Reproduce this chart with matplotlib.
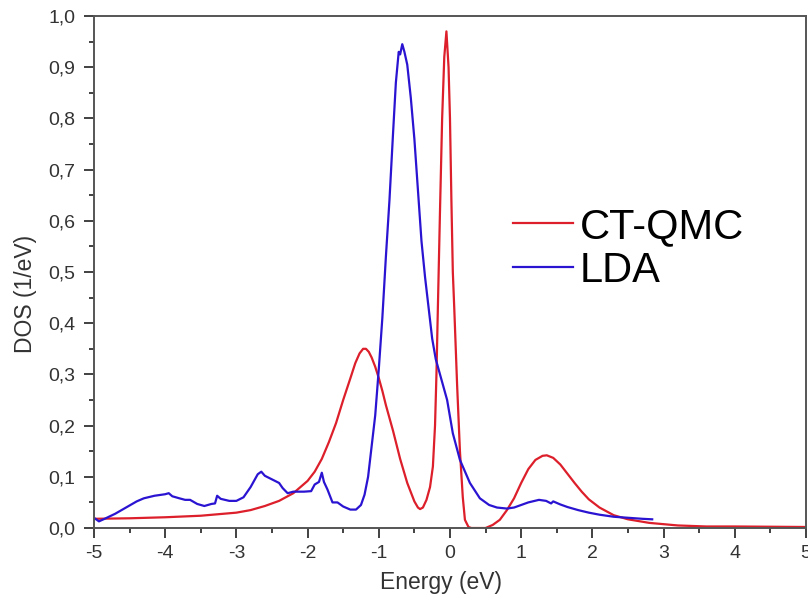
import matplotlib
matplotlib.use("Agg")
import matplotlib.pyplot as plt
from matplotlib.ticker import MultipleLocator, FuncFormatter

plt.rcParams["font.family"] = ["Liberation Sans", "DejaVu Sans"]
plt.rcParams["axes.unicode_minus"] = False

# CT-QMC curve
qmc_e = [-5.0, -4.5, -4.0, -3.5, -3.0, -2.8, -2.6, -2.4, -2.2, -2.0, -1.9, -1.8,
         -1.7, -1.6, -1.5, -1.4, -1.33, -1.27, -1.22, -1.18, -1.14, -1.1, -1.05,
         -1.0, -0.95, -0.9, -0.85, -0.8, -0.7, -0.6, -0.5, -0.45, -0.42, -0.38,
         -0.33, -0.28, -0.24, -0.21, -0.19, -0.17, -0.14, -0.11, -0.08, -0.05,
         -0.02, 0.0, 0.02, 0.04, 0.06, 0.10, 0.14, 0.18, 0.21, 0.26, 0.3, 0.5,
         0.6, 0.7, 0.8, 0.9, 1.0, 1.1, 1.2, 1.3, 1.36, 1.45, 1.55, 1.65, 1.75,
         1.85, 1.95, 2.1, 2.3, 2.5, 2.8, 3.2, 3.6, 4.0, 5.0]
qmc_dos = [0.018, 0.019, 0.021, 0.024, 0.030, 0.035, 0.043, 0.053, 0.068, 0.092,
           0.110, 0.135, 0.168, 0.205, 0.250, 0.292, 0.322, 0.341, 0.350, 0.350,
           0.344, 0.333, 0.315, 0.293, 0.268, 0.240, 0.215, 0.190, 0.135, 0.088,
           0.052, 0.040, 0.037, 0.040, 0.055, 0.080, 0.120, 0.200, 0.300, 0.430,
           0.620, 0.800, 0.920, 0.970, 0.900, 0.800, 0.640, 0.500, 0.430, 0.280,
           0.150, 0.060, 0.016, 0.002, 0.0, 0.0, 0.006, 0.016, 0.035, 0.058,
           0.088, 0.115, 0.133, 0.141, 0.142, 0.137, 0.124, 0.106, 0.088, 0.071,
           0.056, 0.040, 0.025, 0.017, 0.010, 0.005, 0.003, 0.003, 0.002]

# LDA curve
lda_e = [-4.98, -4.93, -4.85, -4.7, -4.55, -4.4, -4.3, -4.15, -4.0, -3.95, -3.9,
         -3.8, -3.72, -3.65, -3.55, -3.45, -3.35, -3.3, -3.27, -3.22, -3.1, -3.0,
         -2.9, -2.8, -2.7, -2.65, -2.6, -2.5, -2.4, -2.35, -2.28, -2.2, -2.05,
         -1.95, -1.9, -1.84, -1.8, -1.77, -1.72, -1.65, -1.58, -1.5, -1.4, -1.32,
         -1.25, -1.2, -1.15, -1.1, -1.05, -1.0, -0.95, -0.9, -0.85, -0.8, -0.76,
         -0.72, -0.70, -0.67, -0.64, -0.6, -0.55, -0.5, -0.45, -0.4, -0.35, -0.3,
         -0.25, -0.2, -0.14, -0.1, -0.04, 0.04, 0.14, 0.28, 0.42, 0.55, 0.66, 0.8,
         0.9, 1.0, 1.1, 1.25, 1.35, 1.42, 1.45, 1.55, 1.65, 1.8, 1.95, 2.1, 2.3,
         2.5, 2.7, 2.84]
lda_dos = [0.018, 0.013, 0.018, 0.028, 0.040, 0.052, 0.058, 0.063, 0.066, 0.068,
           0.062, 0.058, 0.055, 0.055, 0.047, 0.043, 0.047, 0.048, 0.063, 0.057,
           0.053, 0.053, 0.060, 0.080, 0.105, 0.110, 0.102, 0.095, 0.088, 0.078,
           0.068, 0.071, 0.071, 0.072, 0.085, 0.090, 0.108, 0.090, 0.075, 0.050,
           0.050, 0.042, 0.036, 0.036, 0.045, 0.065, 0.100, 0.160, 0.220, 0.310,
           0.410, 0.530, 0.640, 0.770, 0.870, 0.930, 0.925, 0.945, 0.930, 0.905,
           0.840, 0.760, 0.660, 0.560, 0.490, 0.430, 0.370, 0.330, 0.300, 0.280,
           0.250, 0.185, 0.133, 0.088, 0.058, 0.045, 0.040, 0.038, 0.040, 0.045,
           0.050, 0.055, 0.053, 0.048, 0.052, 0.046, 0.041, 0.035, 0.030, 0.026,
           0.022, 0.020, 0.018, 0.017]

fig = plt.figure(figsize=(8.08, 6.02), dpi=100)
ax = fig.add_axes([0.1163, 0.1229, 0.8812, 0.8505])

ax.plot(qmc_e, qmc_dos, color="#dc1f2a", lw=1.6, label="CT-QMC")
ax.plot(lda_e, lda_dos, color="#2a14d2", lw=1.6, label="LDA")

ax.set_xlim(-5, 5)
ax.set_ylim(0, 1.0)
ax.xaxis.set_major_locator(MultipleLocator(1))
ax.xaxis.set_minor_locator(MultipleLocator(0.5))
ax.yaxis.set_major_locator(MultipleLocator(0.1))
ax.yaxis.set_minor_locator(MultipleLocator(0.05))
ax.yaxis.set_major_formatter(FuncFormatter(lambda v, p: f"{v:.1f}".replace(".", ",")))
ax.xaxis.set_major_formatter(FuncFormatter(lambda v, p: f"{v:.0f}"))

ax.tick_params(which="major", direction="out", length=7, width=1.3, labelsize=14,
               colors="#333333", labelcolor="#333333")
ax.tick_params(axis="y", which="major", pad=6.5)
ax.tick_params(axis="x", which="major", pad=5)
ax.tick_params(which="minor", direction="out", length=3.5, width=1.3, colors="#333333")
for s in ax.spines.values():
    s.set_linewidth(1.4)
    s.set_color("#555555")

ax.set_xlabel("Energy (eV)", fontsize=16.5, color="#333333", va="center")
ax.set_ylabel("DOS (1/eV)", fontsize=16.5, color="#333333", va="center")
ax.xaxis.set_label_coords(0.487, -0.107)
ax.yaxis.set_label_coords(-0.0955, 0.457)

ax.legend(loc="center left", bbox_to_anchor=(0.588, 0.545), frameon=False,
          fontsize=30, handlelength=1.44, handletextpad=0.17, labelspacing=0.1,
          borderpad=0, borderaxespad=0)

plt.savefig("out.png", dpi=100)
